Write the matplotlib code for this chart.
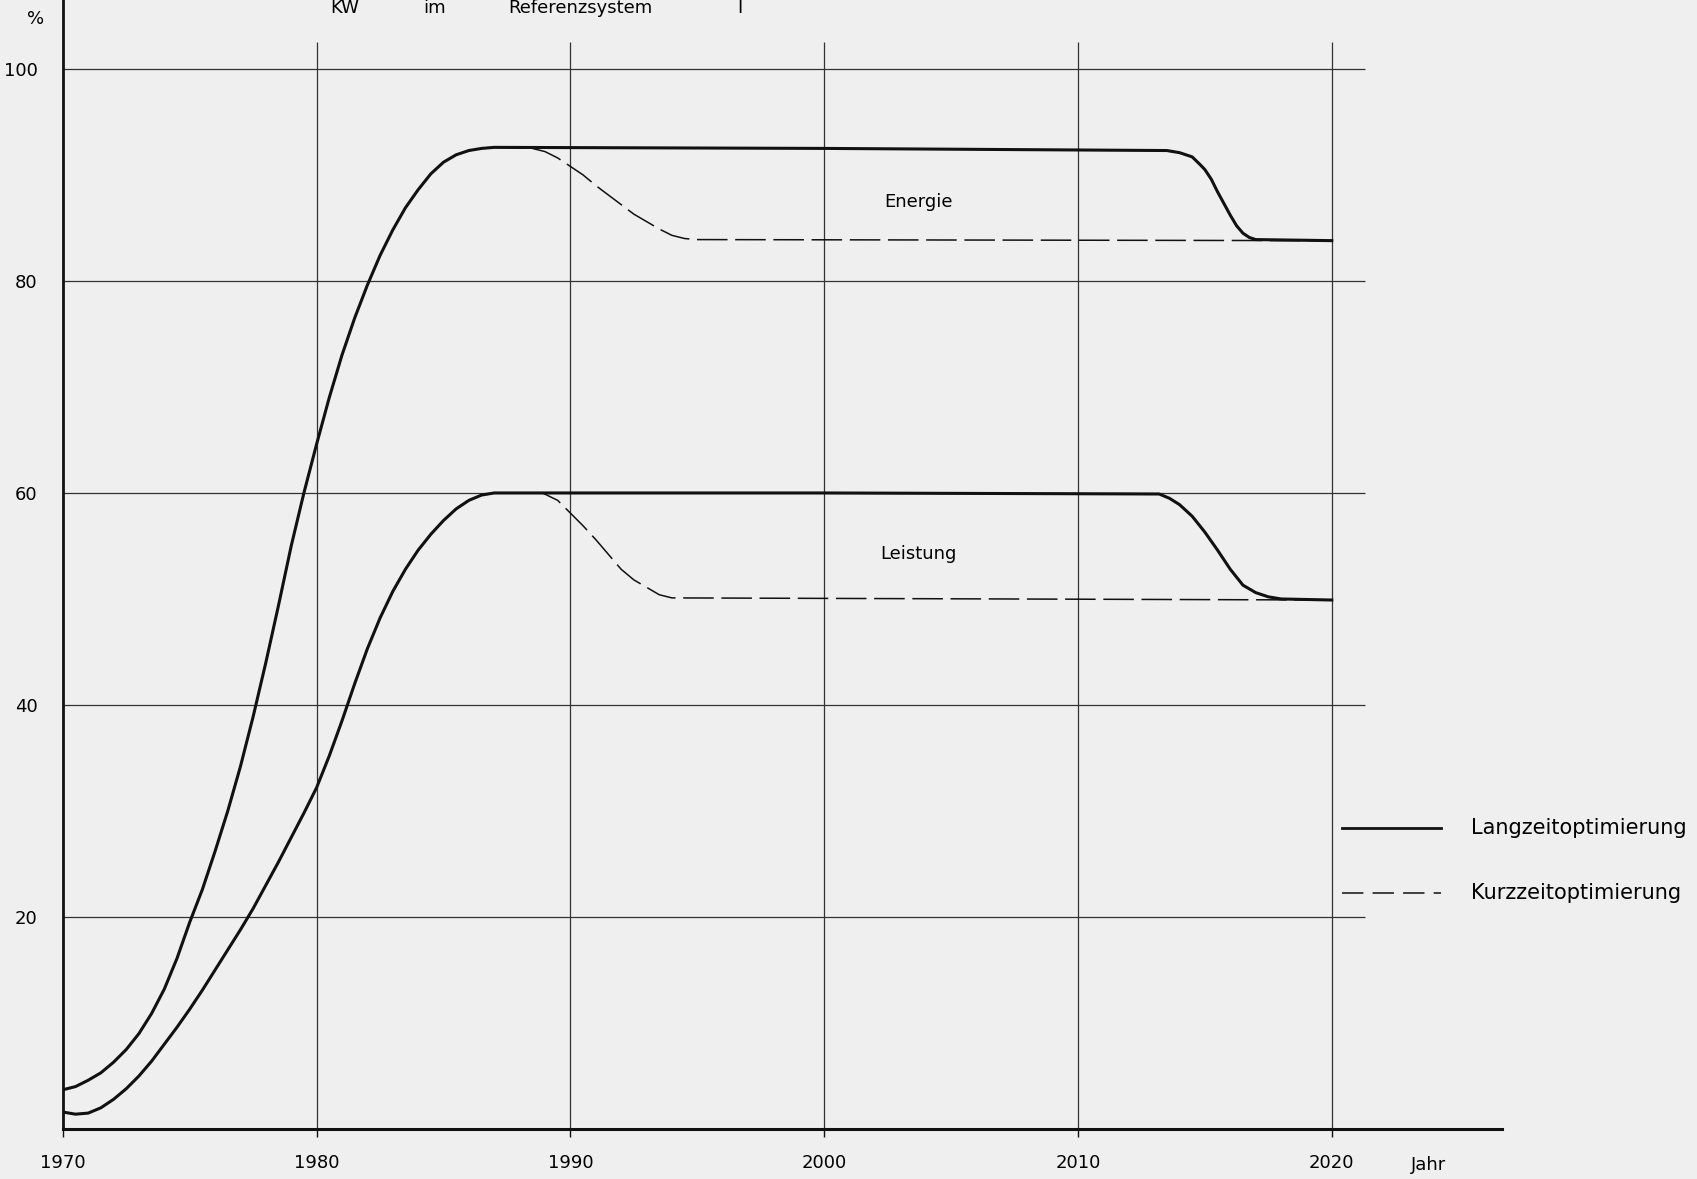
import matplotlib.pyplot as plt

# values (year, %)
energie_lang_x = [1970.0, 1970.5, 1971.0, 1971.5, 1972.0, 1972.5, 1973.0, 1973.5, 1974.0, 1974.5,
                  1975.0, 1975.5, 1976.0, 1976.5, 1977.0, 1977.5, 1978.0, 1978.5, 1979.0, 1979.5,
                  1980.0, 1980.5, 1981.0, 1981.5, 1982.0, 1982.5, 1983.0, 1983.5, 1984.0, 1984.5,
                  1985.0, 1985.5, 1986.0, 1986.5, 1987.0, 2000.0, 2013.5, 2014.0, 2014.5, 2014.8,
                  2015.0, 2015.25, 2015.5, 2015.75, 2016.0, 2016.25, 2016.5, 2016.75, 2017.0, 2020.0]
energie_lang_y = [3.7, 4.0, 4.6, 5.3, 6.3, 7.5, 9.0, 10.9, 13.2, 16.1,
                  19.5, 22.6, 26.2, 30.0, 34.2, 38.9, 44.0, 49.4, 55.0, 60.0,
                  64.6, 69.0, 73.0, 76.5, 79.6, 82.4, 84.8, 86.9, 88.6, 90.1,
                  91.2, 91.9, 92.3, 92.5, 92.6, 92.5, 92.3, 92.1, 91.7, 91.0,
                  90.5, 89.6, 88.4, 87.3, 86.2, 85.2, 84.5, 84.1, 83.9, 83.8]

energie_kurz_x = [1987.0, 1988.5, 1989.0, 1989.5, 1990.0, 1990.5, 1991.0, 1991.5, 1992.0, 1992.5,
                  1993.0, 1993.5, 1994.0, 1994.5, 1995.0, 2020.0]
energie_kurz_y = [92.6, 92.5, 92.2, 91.6, 90.8, 90.0, 89.0, 88.1, 87.2, 86.3,
                  85.6, 84.9, 84.3, 84.0, 83.9, 83.8]

leistung_lang_x = [1970.0, 1970.5, 1971.0, 1971.5, 1972.0, 1972.5, 1973.0, 1973.5, 1974.0, 1974.5,
                   1975.0, 1975.5, 1976.0, 1976.5, 1977.0, 1977.5, 1978.0, 1978.5, 1979.0, 1979.5,
                   1980.0, 1980.5, 1981.0, 1981.5, 1982.0, 1982.5, 1983.0, 1983.5, 1984.0, 1984.5,
                   1985.0, 1985.5, 1986.0, 1986.5, 1987.0, 2000.0, 2013.2, 2013.6, 2014.0, 2014.5,
                   2015.0, 2015.5, 2016.0, 2016.5, 2017.0, 2017.5, 2018.0, 2020.0]
leistung_lang_y = [1.6, 1.4, 1.5, 2.0, 2.8, 3.8, 5.0, 6.4, 8.0, 9.6,
                   11.3, 13.1, 15.0, 16.9, 18.8, 20.8, 23.0, 25.2, 27.5, 29.8,
                   32.2, 35.2, 38.5, 42.0, 45.3, 48.2, 50.7, 52.8, 54.6, 56.1,
                   57.4, 58.5, 59.3, 59.8, 60.0, 60.0, 59.9, 59.5, 58.9, 57.8,
                   56.3, 54.6, 52.8, 51.3, 50.6, 50.2, 50.0, 49.9]

leistung_kurz_x = [1987.0, 1988.9, 1989.5, 1990.0, 1990.5, 1991.0, 1991.5, 1992.0, 1992.5, 1993.0,
                   1993.5, 1994.0, 2020.0]
leistung_kurz_y = [60.0, 60.0, 59.3, 58.1, 56.9, 55.6, 54.2, 52.8, 51.8, 51.1,
                   50.4, 50.1, 49.9]

x_ticks = [1970, 1980, 1990, 2000, 2010, 2020]
y_ticks = [20, 40, 60, 80, 100]

bg = "#efefef"
ink = "#111111"

fig = plt.figure(figsize=(16.97, 11.79), dpi=100, facecolor=bg)
ax = fig.add_axes([0.037, 0.0424, 0.848, 0.9576])
ax.set_facecolor(bg)
ax.set_xlim(1970, 2026.7)
ax.set_ylim(0, 106.5)

# grid drawn by hand, it stops short of the axis ends like in the scan
ax.hlines(y_ticks, 1969.6, 2021.3, color="#333333", lw=0.9, zorder=1)
ax.vlines(x_ticks[1:], 0, 102.5, color="#333333", lw=0.9, zorder=1)

for s in ["top", "right"]:
    ax.spines[s].set_visible(False)
ax.spines["left"].set_linewidth(2.0)
ax.spines["bottom"].set_linewidth(2.2)
ax.spines["left"].set_color(ink)
ax.spines["bottom"].set_color(ink)

ax.set_xticks(x_ticks)
ax.set_xticklabels([str(t) for t in x_ticks], fontsize=13)
ax.set_yticks(y_ticks)
ax.set_yticklabels([str(t) for t in y_ticks], fontsize=13)
ax.tick_params(axis="x", length=6, width=1, pad=12, color=ink)
ax.tick_params(axis="y", length=0, pad=18)

# curves
ax.plot(energie_lang_x, energie_lang_y, color=ink, lw=2.2, zorder=4)
ax.plot(leistung_lang_x, leistung_lang_y, color=ink, lw=2.2, zorder=4)
ax.plot(energie_kurz_x, energie_kurz_y, color=ink, lw=1.1, dashes=(20, 5), zorder=3)
ax.plot(leistung_kurz_x, leistung_kurz_y, color=ink, lw=1.1, dashes=(20, 5), zorder=3)

# curve labels
ax.text(2003.7, 87.4, "Energie", fontsize=13, ha="center", va="center")
ax.text(2003.7, 54.2, "Leistung", fontsize=13, ha="center", va="center")

# hand drawn legend
ax.plot([2020.4, 2024.3], [28.4, 28.4], color=ink, lw=2.0, clip_on=False)
ax.plot([2020.4, 2024.3], [22.3, 22.3], color=ink, lw=1.1, dashes=(14, 6), clip_on=False)
ax.text(2025.5, 28.4, "Langzeitoptimierung", fontsize=15, va="center", clip_on=False)
ax.text(2025.5, 22.3, "Kurzzeitoptimierung", fontsize=15, va="center", clip_on=False)

# axis captions and header
ax.text(2023.8, -3.4, "Jahr", fontsize=13, ha="center", va="center", clip_on=False)
fig.text(0.021, 0.984, "%", fontsize=13, ha="center", va="center")
fig.text(0.203, 0.993, "KW", fontsize=13, ha="center", va="center")
fig.text(0.256, 0.993, "im", fontsize=13, ha="center", va="center")
fig.text(0.342, 0.993, "Referenzsystem", fontsize=13, ha="center", va="center")
fig.text(0.436, 0.993, "I", fontsize=13, ha="center", va="center")

plt.savefig("out.png", dpi=100, facecolor=bg)
plt.close()
